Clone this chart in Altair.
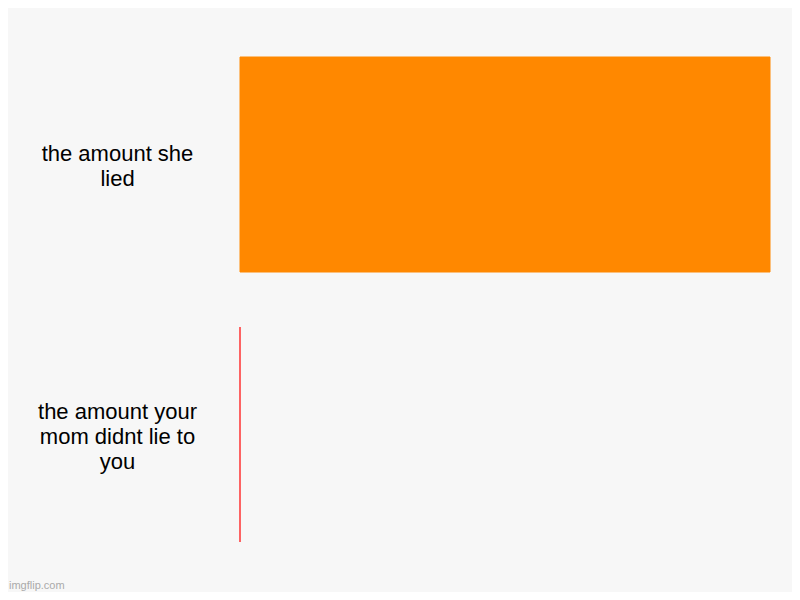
import altair as alt
import pandas as pd

categories = ["the amount she\nlied", "the amount your\nmom didnt lie to\nyou"]
values = [100, 0]
colors = ["#ff8800", "#ff3333"]

df = pd.DataFrame({"category": categories, "value": values})

chart = (
    alt.Chart(df)
    .mark_bar(strokeWidth=1)
    .encode(
        y=alt.Y(
            "category:N",
            sort=categories,
            scale=alt.Scale(paddingInner=55 / 270, paddingOuter=55 / 540),
            axis=alt.Axis(
                title=None,
                domain=False,
                ticks=False,
                grid=False,
                labelExpr="split(datum.label, '\\n')",
                labelAlign="center",
                labelBaseline="middle",
                labelPadding=123,
                labelOffset={
                    "condition": {"test": "indexof(datum.label, 'she') >= 0", "value": -10.5},
                    "value": -22.5,
                },
                labelFontSize=22,
                labelFont="Liberation Sans",
                labelColor="#000000",
                labelLineHeight=25,
                labelLimit=300,
            ),
        ),
        x=alt.X("value:Q", scale=alt.Scale(domain=[0, 100]), axis=None),
        color=alt.Color("category:N", scale=alt.Scale(domain=categories, range=colors), legend=None),
        stroke=alt.Stroke("category:N", scale=alt.Scale(domain=categories, range=colors), legend=None),
    )
    .properties(
        width=530,
        height=540,
        autosize=alt.AutoSizeParams(type="none"),
        padding={"left": 232, "top": 21.5, "right": 22, "bottom": 22.5},
        background="#f7f7f7",
        title=alt.TitleParams(
            text="imgflip.com",
            orient="bottom",
            anchor="start",
            frame="group",
            fontSize=11,
            font="Liberation Sans",
            fontWeight="normal",
            color="#aaaaaa",
            baseline="alphabetic",
            dx=-231,
            offset=19.5,
        ),
    )
    .configure_view(stroke=None)
)

chart.save("out.html", embed_options={"renderer": "svg", "actions": False})
